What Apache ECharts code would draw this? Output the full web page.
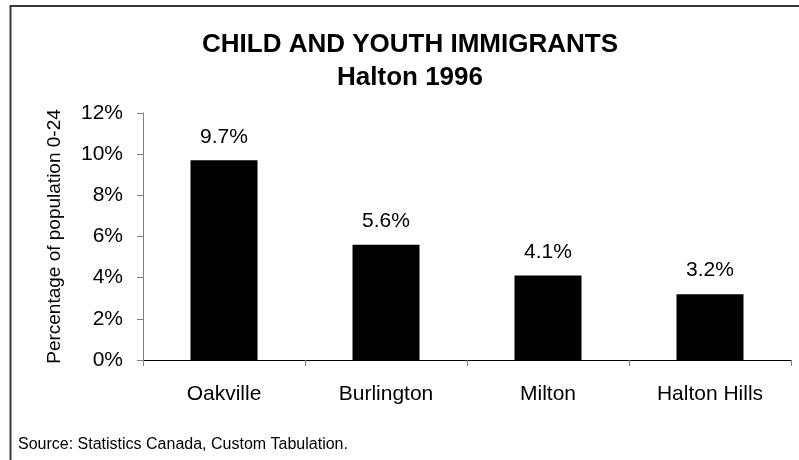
<!DOCTYPE html>
<html>
<head>
<meta charset="utf-8">
<script src="https://cdn.jsdelivr.net/npm/echarts@6/dist/echarts.min.js"></script>
<style>
  html, body { margin: 0; padding: 0; background: #fff; }
  #chart { width: 799px; height: 460px; }
</style>
</head>
<body>
<div id="chart"></div>
<script>
// data
const categories = ['Oakville', 'Burlington', 'Milton', 'Halton Hills'];
const percentImmigrants = [9.7, 5.6, 4.1, 3.2];
const yTicks = [0, 2, 4, 6, 8, 10, 12];

const font = '"Liberation Sans", Arial, sans-serif';

const chart = echarts.init(document.getElementById('chart'));

const option = {
  backgroundColor: '#fff',
  animation: false,
  grid: { left: 143, right: 8, top: 113, bottom: 100 },
  graphic: [
    // outer frame (only top and left edges are visible in the picture)
    {
      type: 'rect',
      shape: { x: 10.5, y: 6, width: 900, height: 600 },
      style: { fill: 'none', stroke: '#3a3a3a', lineWidth: 2 },
      silent: true
    },
    {
      type: 'text',
      x: 410, y: 32,
      style: {
        text: 'CHILD AND YOUTH IMMIGRANTS',
        fontFamily: font, fontSize: 26, fontWeight: 'bold',
        fill: '#000', textAlign: 'center', textVerticalAlign: 'top'
      }
    },
    {
      type: 'text',
      x: 410, y: 65,
      style: {
        text: 'Halton 1996',
        fontFamily: font, fontSize: 26, fontWeight: 'bold',
        fill: '#000', textAlign: 'center', textVerticalAlign: 'top'
      }
    },
    {
      type: 'text',
      x: 18, y: 437,
      style: {
        text: 'Source: Statistics Canada, Custom Tabulation.',
        fontFamily: font, fontSize: 16,
        fill: '#000', textAlign: 'left', textVerticalAlign: 'top'
      }
    }
  ],
  xAxis: {
    type: 'category',
    data: categories,
    axisLine: { lineStyle: { color: '#000', width: 1 } },
    axisTick: { show: true, length: 6, lineStyle: { color: '#808080' } },
    axisLabel: { color: '#000', fontFamily: font, fontSize: 21, margin: 24 }
  },
  yAxis: {
    type: 'value',
    min: yTicks[0],
    max: yTicks[yTicks.length - 1],
    interval: 2,
    name: 'Percentage of population 0-24',
    nameLocation: 'middle',
    nameGap: 79,
    nameTextStyle: { color: '#000', fontFamily: font, fontSize: 19 },
    axisLine: { show: true, lineStyle: { color: '#808080', width: 1 } },
    axisTick: { show: true, length: 6, lineStyle: { color: '#808080' } },
    splitLine: { show: false },
    axisLabel: {
      color: '#000', fontFamily: font, fontSize: 21, margin: 20,
      formatter: '{value}%'
    }
  },
  series: [
    {
      type: 'bar',
      data: percentImmigrants,
      barWidth: 67,
      itemStyle: { color: '#000' },
      label: {
        show: true,
        position: 'top',
        distance: 13,
        color: '#000',
        fontFamily: font,
        fontSize: 21,
        formatter: p => p.value.toFixed(1) + '%'
      }
    }
  ]
};

chart.setOption(option);
</script>
</body>
</html>
